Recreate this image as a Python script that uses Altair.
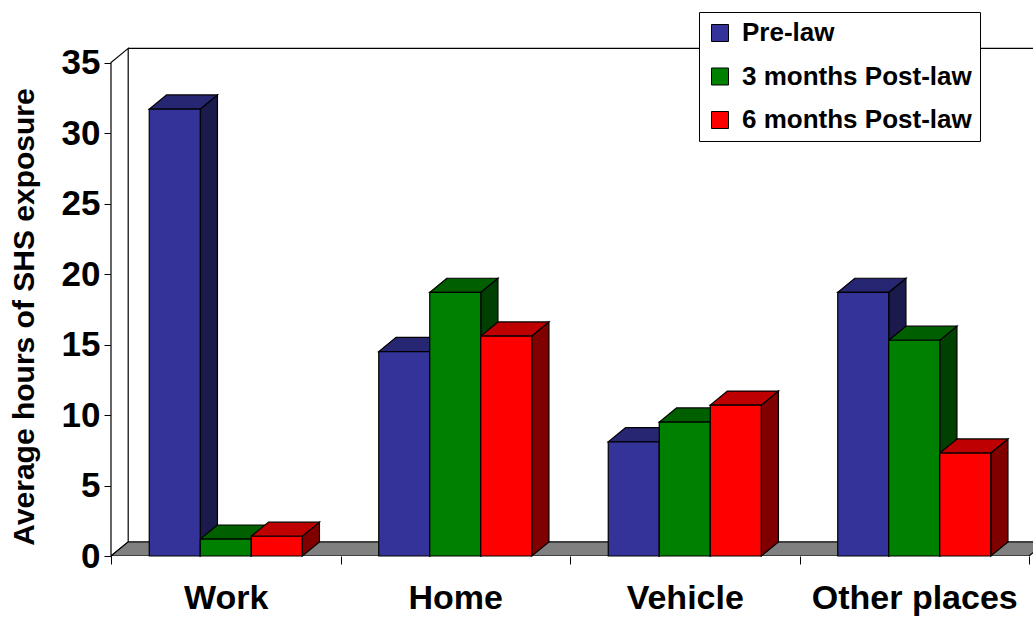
import altair as alt
import pandas as pd

# Average hours of second-hand smoke exposure, by place and survey wave
categories = ["Work", "Home", "Vehicle", "Other places"]
series = ["Pre-law", "3 months Post-law", "6 months Post-law"]
pre_law = [31.7, 14.5, 8.1, 18.7]
post_3_months = [1.2, 18.7, 9.5, 15.3]
post_6_months = [1.4, 15.6, 10.7, 7.3]
y_ticks = [0, 5, 10, 15, 20, 25, 30, 35]

# face shading of the 3-D columns: front, top, right side
front_colors = ["#333399", "#008000", "#FF0000"]
top_colors = ["#262673", "#006000", "#BF0000"]
side_colors = ["#1A1A4D", "#004000", "#800000"]
floor_color = "#808080"

FONT = "Liberation Sans"

# plot geometry: one category = 1 x-unit, y in hours
PX_PER_CAT = 229.5
PX_PER_UNIT = 14.1
PLOT_W = 922
PLOT_H = 512
X_MAX = PLOT_W / PX_PER_CAT
Y_MAX = PLOT_H / PX_PER_UNIT
DEPTH_X = 17.2 / PX_PER_CAT      # receding depth, horizontal part (x-units)
DEPTH_Y = 1.0                    # receding depth, vertical part (hours)
AXIS_TOP = 35
GROUP = 2 / 3                    # share of a category band filled by columns
BAR_W = GROUP / len(series)

values_by_series = [pre_law, post_3_months, post_6_months]

fronts, tops, sides = [], [], []
bar_id = 0
for c, cat in enumerate(categories):
    for s, name in enumerate(series):
        v = values_by_series[s][c]
        xl = c + (1 - GROUP) / 2 + s * BAR_W
        xr = xl + BAR_W
        key = f"b{bar_id:02d}"
        fronts.append({"series": name, "category": cat, "x": xl, "x2": xr, "y": 0, "y2": v})
        tops.append({"bar": key, "fill": top_colors[s], "y": v, "x": xl, "x2": xr})
        tops.append({"bar": key, "fill": top_colors[s], "y": v + DEPTH_Y,
                     "x": xl + DEPTH_X, "x2": xr + DEPTH_X})
        sides.append({"bar": key, "fill": side_colors[s], "x": xr, "y": 0, "y2": v})
        sides.append({"bar": key, "fill": side_colors[s], "x": xr + DEPTH_X,
                      "y": DEPTH_Y, "y2": v + DEPTH_Y})
        bar_id += 1

n_cat = len(categories)
floor = pd.DataFrame([
    {"y": 0, "x": 0, "x2": n_cat},
    {"y": DEPTH_Y, "x": DEPTH_X, "x2": n_cat + DEPTH_X},
])
left_wall = pd.DataFrame([
    {"x": 0, "y": 0, "y2": AXIS_TOP},
    {"x": DEPTH_X, "y": DEPTH_Y, "y2": AXIS_TOP + DEPTH_Y},
])
back_edge = pd.DataFrame([{"x": DEPTH_X, "x2": n_cat + 1, "y": AXIS_TOP + DEPTH_Y}])

x_scale = alt.Scale(domain=[0, X_MAX], nice=False, zero=False)
y_scale = alt.Scale(domain=[0, Y_MAX], nice=False, zero=False)

label_expr = "[" + ",".join(f"'{c}'" for c in categories) + ",''][datum.value]"

x_axis = alt.Axis(
    values=list(range(n_cat + 1)), labelExpr=label_expr, labelOffset=PX_PER_CAT / 2,
    tickSize=8, tickColor="black", tickWidth=1, domain=False, grid=False,
    labelFont=FONT, labelFontSize=34, labelFontWeight="bold", labelColor="black",
    labelPadding=44, labelBaseline="alphabetic", labelOverlap=False,
    labelFlush=False, labelBound=False, labelLimit=500, title=None,
)
y_axis = alt.Axis(
    values=y_ticks, tickSize=7, tickColor="black", tickWidth=1, domain=False, grid=False,
    labelFont=FONT, labelFontSize=35, labelFontWeight="bold", labelColor="black",
    labelPadding=4, title="Average hours of SHS exposure", titleFont=FONT,
    titleFontSize=30, titleFontWeight="bold", titleColor="black", titleAngle=270,
    titleX=-78, titleY=272.5, titleAlign="center", titleBaseline="alphabetic",
)


def xq(field):
    return alt.X(f"{field}:Q", scale=x_scale, axis=x_axis, stack=None)


def yq(field):
    return alt.Y(f"{field}:Q", scale=y_scale, axis=y_axis, stack=None)


wall_layer = alt.Chart(left_wall).mark_area(
    orient="vertical", fill="white", stroke="black", strokeWidth=1.2
).encode(x=xq("x"), y=yq("y"), y2="y2")

floor_layer = alt.Chart(floor).mark_area(
    orient="horizontal", fill=floor_color, stroke="black", strokeWidth=1.2, clip=True
).encode(y=yq("y"), x=xq("x"), x2="x2")

back_layer = alt.Chart(back_edge).mark_rule(
    color="black", strokeWidth=1.2, clip=True
).encode(x=xq("x"), x2="x2", y=yq("y"))

side_layer = alt.Chart(pd.DataFrame(sides)).mark_area(
    orient="vertical", stroke="black", strokeWidth=1.2
).encode(
    x=xq("x"), y=yq("y"), y2="y2",
    fill=alt.Fill("fill:N", scale=None), detail="bar:N",
)

top_layer = alt.Chart(pd.DataFrame(tops)).mark_area(
    orient="horizontal", stroke="black", strokeWidth=1.2
).encode(
    y=yq("y"), x=xq("x"), x2="x2",
    fill=alt.Fill("fill:N", scale=None), detail="bar:N",
)

front_layer = alt.Chart(pd.DataFrame(fronts)).mark_rect(
    stroke="black", strokeWidth=1.2
).encode(
    x=xq("x"), x2="x2", y=yq("y"), y2="y2",
    color=alt.Color(
        "series:N",
        scale=alt.Scale(domain=series, range=front_colors),
        legend=alt.Legend(
            title=None, orient="none", legendX=588, legendY=-32, padding=8,
            strokeColor="black", fillColor="white", symbolType="square",
            symbolSize=289, symbolStrokeColor="black", symbolStrokeWidth=1,
            symbolOpacity=1, labelFont=FONT, labelFontSize=26,
            labelFontWeight="bold", labelColor="black", labelOffset=9,
            rowPadding=17.5, labelLimit=400,
        ),
    ),
)

chart = alt.layer(
    wall_layer, floor_layer, back_layer, side_layer, top_layer, front_layer
).properties(
    width=PLOT_W,
    height=PLOT_H,
    padding={"left": 111, "top": 44, "right": 0, "bottom": 63},
    autosize=alt.AutoSizeParams(type="none"),
    background="white",
).configure_view(stroke=None)

chart.save("out.html", embed_options={"renderer": "svg", "actions": False})
